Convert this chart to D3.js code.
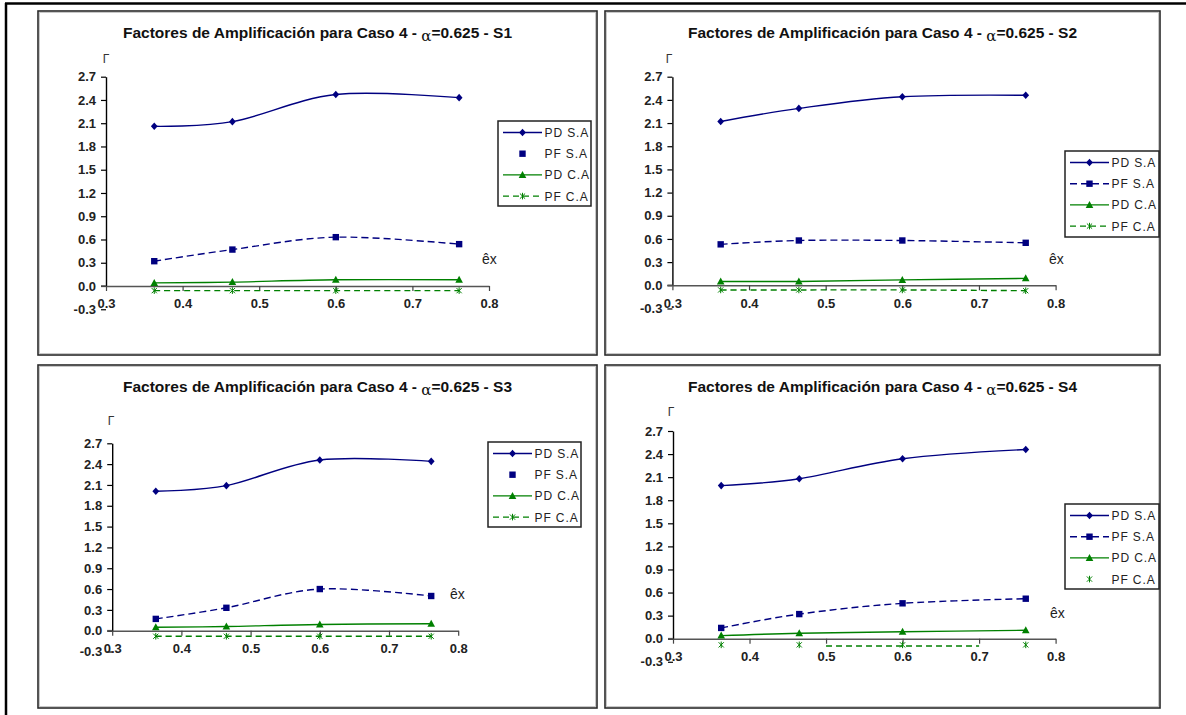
<!DOCTYPE html>
<html>
<head>
<meta charset="utf-8">
<script src="https://cdn.jsdelivr.net/npm/d3@7"></script>
<style>
  html, body { margin: 0; padding: 0; background: #fff; }
  svg { display: block; }
  text { font-family: "Liberation Sans", Arial, sans-serif; }
</style>
</head>
<body>
<svg id="chart" width="1186" height="715"></svg>
<script>
// ---- data ----------------------------------------------------------
const xValues = [0.363, 0.465, 0.6, 0.761];
const seriesNames = ["PD S.A", "PF S.A", "PD C.A", "PF C.A"];
const panelLabels = ["S1", "S2", "S3", "S4"];

const s1PDSA = [2.06, 2.12, 2.47, 2.43];
const s1PFSA = [0.32, 0.47, 0.63, 0.54];
const s1PDCA = [0.04, 0.05, 0.08, 0.08];
const s1PFCA = [-0.06, -0.06, -0.06, -0.06];

const s2PDSA = [2.12, 2.29, 2.44, 2.46];
const s2PFSA = [0.53, 0.58, 0.58, 0.55];
const s2PDCA = [0.05, 0.05, 0.07, 0.09];
const s2PFCA = [-0.06, -0.06, -0.06, -0.07];

const s3PDSA = [2.01, 2.09, 2.46, 2.44];
const s3PFSA = [0.17, 0.33, 0.60, 0.50];
const s3PDCA = [0.05, 0.06, 0.09, 0.10];
const s3PFCA = [-0.08, -0.08, -0.08, -0.08];

const s4PDSA = [1.99, 2.08, 2.34, 2.46];
const s4PFSA = [0.14, 0.32, 0.46, 0.52];
const s4PDCA = [0.04, 0.07, 0.09, 0.11];
const s4PFCA = [-0.08, -0.08, -0.08, -0.08];
// stray dashed segment in the S4 plot
const s4SegmentX = [0.5, 0.7];
const s4SegmentY = [-0.095, -0.095];

const xTickValues = [0.3, 0.4, 0.5, 0.6, 0.7, 0.8];
const yTickValues = [-0.3, 0.0, 0.3, 0.6, 0.9, 1.2, 1.5, 1.8, 2.1, 2.4, 2.7];

// ---- styling per series -------------------------------------------
const NAVY = "#000080", GREEN = "#008000";
const seriesStyle = [
  { color: NAVY,  marker: "diamond",  dash: null },
  { color: NAVY,  marker: "square",   dash: "7,4" },
  { color: GREEN, marker: "triangle", dash: null },
  { color: GREEN, marker: "star",     dash: "6,4" }
];

// ---- panel layout --------------------------------------------------
const panels = [
  { label: "S1", series: [s1PDSA, s1PFSA, s1PDCA, s1PFCA],
    frame: [38, 11, 597, 355], plot: { x0: 106, x1: 489, yTop: 76.7, yZero: 286 },
    legend: { x: 498, y: 121, w: 93, h: 85 }, legendLine: [true, false, true, true],
    plotLine: [true, true, true, true],
    gamma: [106, 63], ex: [482, 264], titleY: 38 },
  { label: "S2", series: [s2PDSA, s2PFSA, s2PDCA, s2PFCA],
    frame: [605, 11, 1160, 355], plot: { x0: 672.4, x1: 1055.6, yTop: 76.7, yZero: 285.3 },
    legend: { x: 1065, y: 151, w: 94, h: 86 }, legendLine: [true, true, true, true],
    plotLine: [true, true, true, true],
    gamma: [669, 63], ex: [1049, 264], titleY: 38 },
  { label: "S3", series: [s3PDSA, s3PFSA, s3PDCA, s3PFCA],
    frame: [38, 365, 597, 708], plot: { x0: 112.2, x1: 458.2, yTop: 443.3, yZero: 630.7 },
    legend: { x: 488, y: 442, w: 93, h: 85 }, legendLine: [true, false, true, true],
    plotLine: [true, true, true, true],
    gamma: [111, 425], ex: [450, 599], titleY: 392 },
  { label: "S4", series: [s4PDSA, s4PFSA, s4PDCA, s4PFCA],
    frame: [605, 365, 1160, 708], plot: { x0: 673, x1: 1055.6, yTop: 431, yZero: 638.7 },
    legend: { x: 1065, y: 504, w: 94, h: 85 }, legendLine: [true, true, true, false],
    plotLine: [true, true, true, false],
    gamma: [671, 416], ex: [1050, 618], titleY: 392,
    extraSegment: true }
];

const svg = d3.select("#chart");

// outer page frame
svg.append("line").attr("x1", 5).attr("x2", 1186).attr("y1", 3.5).attr("y2", 3.5)
  .attr("stroke", "#000").attr("stroke-width", 2.5);
svg.append("line").attr("x1", 6).attr("x2", 6).attr("y1", 3).attr("y2", 715)
  .attr("stroke", "#000").attr("stroke-width", 2.5);

function drawMarker(g, type, cx, cy, color) {
  const t = `translate(${cx},${cy})`;
  if (type === "star") {
    g.append("path")
      .attr("d", "M-2.6,-2.6L2.6,2.6M-2.6,2.6L2.6,-2.6M0,-3.3L0,3.3")
      .attr("transform", t)
      .attr("stroke", color).attr("stroke-width", 1).attr("fill", "none");
  } else if (type === "diamond") {
    g.append("path").attr("d", "M0,-3.8L3.4,0L0,3.8L-3.4,0Z")
      .attr("transform", t).attr("fill", color);
  } else if (type === "square") {
    g.append("path").attr("d", "M-3.2,-3.2H3.2V3.2H-3.2Z")
      .attr("transform", t).attr("fill", color);
  } else {
    g.append("path").attr("d", "M0,-4L3.8,3L-3.8,3Z")
      .attr("transform", t).attr("fill", color);
  }
}

const fmt = d => d.toFixed(1);

panels.forEach(p => {
  const g = svg.append("g");
  const [fx0, fy0, fx1, fy1] = p.frame;

  // chart frame with a faint inner shadow
  g.append("rect").attr("x", fx0 + 1.5).attr("y", fy0 + 1.5)
    .attr("width", fx1 - fx0 - 3).attr("height", fy1 - fy0 - 3)
    .attr("fill", "none").attr("stroke", "#c8c8c8").attr("stroke-width", 1);
  g.append("rect").attr("x", fx0).attr("y", fy0)
    .attr("width", fx1 - fx0).attr("height", fy1 - fy0)
    .attr("fill", "none").attr("stroke", "#2a2a2a").attr("stroke-width", 1.6);

  // title
  const title = g.append("text")
    .attr("x", (fx0 + fx1) / 2).attr("y", p.titleY)
    .attr("text-anchor", "middle")
    .attr("font-size", 15.5).attr("font-weight", "bold").attr("fill", "#111");
  title.append("tspan").text("Factores de Amplificación para Caso 4 - ");
  title.append("tspan").attr("dy", 3).attr("font-weight", "normal").attr("font-size", 15)
    .attr("font-family", "DejaVu Serif, serif").text("α");
  title.append("tspan").attr("dy", -3).text("=0.625 - " + p.label);

  // scales
  const x = d3.scaleLinear().domain([0.3, 0.8]).range([p.plot.x0, p.plot.x1]);
  const y = d3.scaleLinear().domain([0, 2.7]).range([p.plot.yZero, p.plot.yTop]);

  // y axis (black), full range -0.3 .. 2.7
  const yAxis = g.append("g").attr("transform", `translate(${p.plot.x0},0)`)
    .call(d3.axisLeft(y).tickValues(yTickValues).tickFormat(fmt)
      .tickSize(5).tickSizeOuter(0).tickPadding(5));
  yAxis.attr("font-size", 13);
  yAxis.select(".domain").attr("stroke", "#000").attr("stroke-width", 1.4);
  yAxis.selectAll(".tick line").attr("stroke", "#000").attr("stroke-width", 1.2);
  yAxis.selectAll(".tick text").attr("font-weight", "bold")
    .attr("fill", "#222").attr("font-family", "Liberation Sans, Arial, sans-serif");

  // x axis (grey), crossing at y = 0
  const xAxis = g.append("g").attr("transform", `translate(0,${y(0)})`)
    .call(d3.axisBottom(x).tickValues(xTickValues).tickFormat(fmt)
      .tickSize(5).tickSizeOuter(0).tickPadding(8));
  xAxis.attr("font-size", 13);
  xAxis.select(".domain").attr("stroke", "#555").attr("stroke-width", 1.6);
  xAxis.selectAll(".tick line").attr("stroke", "#444").attr("stroke-width", 1.2);
  xAxis.selectAll(".tick text").attr("font-weight", "bold")
    .attr("fill", "#222").attr("font-family", "Liberation Sans, Arial, sans-serif");
  g.append("line").attr("x1", p.plot.x0 - 5).attr("x2", p.plot.x0)
    .attr("y1", y(0)).attr("y2", y(0)).attr("stroke", "#555").attr("stroke-width", 1.6);

  // axis names
  g.append("text").attr("x", p.gamma[0]).attr("y", p.gamma[1])
    .attr("text-anchor", "middle").attr("font-size", 12).attr("fill", "#333")
    .text("Γ");
  g.append("text").attr("x", p.ex[0]).attr("y", p.ex[1])
    .attr("font-size", 14).attr("fill", "#222").text("êx");

  // series
  const line = d3.line().x(d => x(d[0])).y(d => y(d[1])).curve(d3.curveCardinal.tension(0));
  p.series.forEach((vals, i) => {
    const st = seriesStyle[i];
    const pts = xValues.map((xv, k) => [xv, vals[k]]);
    if (p.plotLine[i]) {
      g.append("path").attr("d", line(pts)).attr("fill", "none")
        .attr("stroke", st.color).attr("stroke-width", 1.4)
        .attr("stroke-dasharray", st.dash);
    }
    pts.forEach(d => drawMarker(g, st.marker, x(d[0]), y(d[1]), st.color));
  });

  if (p.extraSegment) {
    const segPts = s4SegmentX.map((xv, k) => [xv, s4SegmentY[k]]);
    g.append("path").attr("d", d3.line().x(d => x(d[0])).y(d => y(d[1]))(segPts))
      .attr("fill", "none").attr("stroke", GREEN).attr("stroke-width", 1.4)
      .attr("stroke-dasharray", "6,4");
  }

  // legend
  const L = p.legend;
  g.append("rect").attr("x", L.x).attr("y", L.y).attr("width", L.w).attr("height", L.h)
    .attr("fill", "#fff").attr("stroke", "#222").attr("stroke-width", 1.5);
  seriesNames.forEach((name, i) => {
    const st = seriesStyle[i];
    const cy = L.y + 11.5 + i * 21.2;
    if (p.legendLine[i]) {
      g.append("line").attr("x1", L.x + 5).attr("x2", L.x + 44)
        .attr("y1", cy).attr("y2", cy)
        .attr("stroke", st.color).attr("stroke-width", 1.4)
        .attr("stroke-dasharray", st.dash);
    }
    drawMarker(g, st.marker, L.x + 24.5, cy, st.color);
    g.append("text").attr("x", L.x + 46.5).attr("y", cy + 4.5)
      .attr("font-size", 12).attr("letter-spacing", 0.9).attr("fill", "#222")
      .text(name);
  });
});
</script>
</body>
</html>
